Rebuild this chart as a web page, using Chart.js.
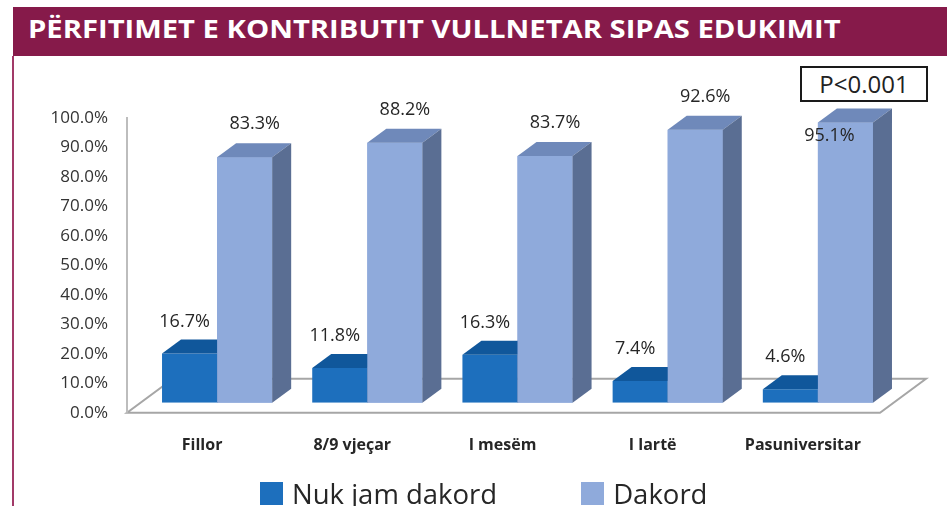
<!DOCTYPE html>
<html>
<head>
<meta charset="utf-8">
<script src="https://cdn.jsdelivr.net/npm/chart.js@4.4.1/dist/chart.umd.min.js"></script>
<style>
  html, body { margin: 0; padding: 0; background: #ffffff; }
  body { width: 947px; height: 506px; position: relative; overflow: hidden; font-family: "Open Sans", sans-serif; }
  #chart { position: absolute; left: 0; top: 0; }
  #titlebar { position: absolute; left: 13px; top: 7px; width: 934px; height: 49px; background: #861a4a; }
  #titlebar span { position: absolute; left: 15px; top: 0; line-height: 43px; font-size: 25px; font-weight: 700; color: #ffffff; white-space: nowrap; transform: scaleX(1.168); transform-origin: left center; }
  #leftrule { position: absolute; left: 12px; top: 56px; width: 2px; height: 450px; background: #a23a68; }
  #pbox { position: absolute; box-sizing: border-box; border: 2px solid #1a1a1a; background: #fff; color: #222; font-size: 24px; line-height: 32px; text-align: center; }
  #legend { position: absolute; left: 260px; top: 480px; display: flex; gap: 84px; }
  .lg-item { display: flex; align-items: flex-start; }
  .lg-box { width: 23px; height: 23px; margin-top: 2px; margin-right: 9px; }
  .lg-text { font-size: 27.5px; line-height: 27px; color: #262626; white-space: nowrap; }
</style>
</head>
<body>
<canvas id="chart" width="947" height="506"></canvas>
<div id="titlebar"><span id="titletext"></span></div>
<div id="leftrule"></div>
<div id="pbox"></div>
<div id="legend"></div>
<script>
// ---- data ----
const chartTitle = 'PËRFITIMET E KONTRIBUTIT VULLNETAR SIPAS EDUKIMIT';
const categories = ['Fillor', '8/9 vjeçar', 'I mesëm', 'I lartë', 'Pasuniversitar'];
const seriesNames = ['Nuk jam dakord', 'Dakord'];
const nukJamDakord = [16.7, 11.8, 16.3, 7.4, 4.6];
const dakord = [83.3, 88.2, 83.7, 92.6, 95.1];
const yTickLabels = ['0.0%', '10.0%', '20.0%', '30.0%', '40.0%', '50.0%', '60.0%', '70.0%', '80.0%', '90.0%', '100.0%'];
const pValueText = 'P<0.001';

// ---- styles ----
const pBoxRect = { left: 800, top: 66, width: 128, height: 36 };
const faceColors = [
  { front: '#1d6fbd', top: '#10579b', side: '#0e4a85' },
  { front: '#8faadb', top: '#6f89ba', side: '#5a6e93' }
];

document.getElementById('titletext').textContent = chartTitle;
const pb = document.getElementById('pbox');
pb.textContent = pValueText;
Object.assign(pb.style, { left: pBoxRect.left + 'px', top: pBoxRect.top + 'px', width: pBoxRect.width + 'px', height: pBoxRect.height + 'px' });

const depth = { dx: 19, dy: -14 };

const threeD = {
  id: 'threeD',
  beforeDatasetsDraw(chart, args, opts) {
    const { ctx, chartArea, scales } = chart;
    const y = scales.y;
    const fy = y.getPixelForValue(0) + opts.floorDrop;
    const fl = chartArea.left + opts.floorLeft;
    const fr = chartArea.right + opts.floorRight;
    ctx.save();
    ctx.lineWidth = 2;
    ctx.strokeStyle = opts.floorColor;
    ctx.beginPath();
    ctx.moveTo(fl, fy);
    ctx.lineTo(fr, fy);
    ctx.lineTo(fr + opts.floorDx, fy + opts.floorDy);
    ctx.lineTo(fl + opts.floorDx, fy + opts.floorDy);
    ctx.closePath();
    ctx.stroke();
    ctx.strokeStyle = opts.wallColor;
    ctx.beginPath();
    ctx.moveTo(fl, y.getPixelForValue(100) + opts.floorDrop - 1);
    ctx.lineTo(fl, fy);
    ctx.stroke();
    ctx.restore();
  },
  afterDatasetsDraw(chart, args, opts) {
    const { ctx } = chart;
    const metas = chart.data.datasets.map((d, i) => chart.getDatasetMeta(i));
    const n = chart.data.labels.length;
    ctx.save();
    for (let i = 0; i < n; i++) {
      metas.forEach((meta, di) => {
        const bar = meta.data[i];
        if (di > 0) bar.draw(ctx);
        const p = bar.getProps(['x', 'y', 'base', 'width'], true);
        const x1 = p.x - p.width / 2, x2 = p.x + p.width / 2;
        const fc = faceColors[di];
        ctx.fillStyle = fc.top;
        ctx.beginPath();
        ctx.moveTo(x1, p.y);
        ctx.lineTo(x2, p.y);
        ctx.lineTo(x2 + depth.dx, p.y + depth.dy);
        ctx.lineTo(x1 + depth.dx, p.y + depth.dy);
        ctx.closePath();
        ctx.fill();
        ctx.fillStyle = fc.side;
        ctx.beginPath();
        ctx.moveTo(x2, p.y);
        ctx.lineTo(x2 + depth.dx, p.y + depth.dy);
        ctx.lineTo(x2 + depth.dx, p.base + depth.dy);
        ctx.lineTo(x2, p.base);
        ctx.closePath();
        ctx.fill();
      });
    }
    // value labels
    ctx.font = opts.labelFont;
    ctx.fillStyle = opts.labelColor;
    ctx.textAlign = 'center';
    ctx.textBaseline = 'middle';
    metas.forEach((meta, di) => {
      const vals = chart.data.datasets[di].data;
      meta.data.forEach((bar, i) => {
        const txt = vals[i].toFixed(1) + '%';
        const sh = opts.labelShift[di];
        let lx = bar.x + sh[0], ly = bar.y + sh[1];
        const w = ctx.measureText(txt).width, h = 18;
        const hit = lx + w / 2 > pBoxRect.left && lx - w / 2 < pBoxRect.left + pBoxRect.width &&
                    ly + h / 2 > pBoxRect.top && ly - h / 2 < pBoxRect.top + pBoxRect.height;
        if (hit) { lx = bar.x + opts.insideShift[0]; ly = bar.y + opts.insideShift[1]; }
        ctx.fillText(txt, lx, ly);
      });
    });
    ctx.restore();
  }
};

const chart = new Chart(document.getElementById('chart'), {
  type: 'bar',
  data: {
    labels: categories,
    datasets: [
      { label: seriesNames[0], data: nukJamDakord, backgroundColor: faceColors[0].front, borderWidth: 0 },
      { label: seriesNames[1], data: dakord, backgroundColor: faceColors[1].front, borderWidth: 0 }
    ]
  },
  options: {
    responsive: false,
    animation: false,
    devicePixelRatio: 1,
    layout: { padding: { left: 0, right: 54, top: 108, bottom: 18 } },
    datasets: { bar: { barPercentage: 1, categoryPercentage: 110 / 150 } },
    scales: {
      x: {
        grid: { display: false, drawTicks: false },
        border: { display: false },
        ticks: {
          color: '#262626',
          font: { family: 'Open Sans', size: 16, weight: 'bold' },
          padding: 33,
          labelOffset: -15,
          maxRotation: 0,
          autoSkip: false
        }
      },
      y: {
        min: 0, max: 100,
        grid: { display: false, drawTicks: false },
        border: { display: false },
        afterFit(s) { s.width = 142; },
        ticks: {
          stepSize: 10,
          color: '#333333',
          font: { family: 'Open Sans', size: 17 },
          padding: 34,
          labelOffset: 10,
          callback: (v, i) => yTickLabels[i]
        }
      }
    },
    plugins: {
      legend: { display: false },
      tooltip: { enabled: false },
      threeD: {
        floorDrop: 10, floorLeft: -15, floorRight: -13, floorDx: 46, floorDy: -34,
        floorColor: '#a6a6a6', wallColor: '#bdbdbd',
        labelFont: '18px "Open Sans"', labelColor: '#262626',
        labelShift: [[-5, -32], [10, -33]],
        insideShift: [-16, 13]
      }
    }
  },
  plugins: [threeD]
});

// legend built from chart datasets
const lg = document.getElementById('legend');
chart.data.datasets.forEach((ds) => {
  const item = document.createElement('div'); item.className = 'lg-item';
  const box = document.createElement('div'); box.className = 'lg-box'; box.style.background = ds.backgroundColor;
  const t = document.createElement('div'); t.className = 'lg-text'; t.textContent = ds.label;
  item.appendChild(box); item.appendChild(t); lg.appendChild(item);
});
</script>
</body>
</html>
